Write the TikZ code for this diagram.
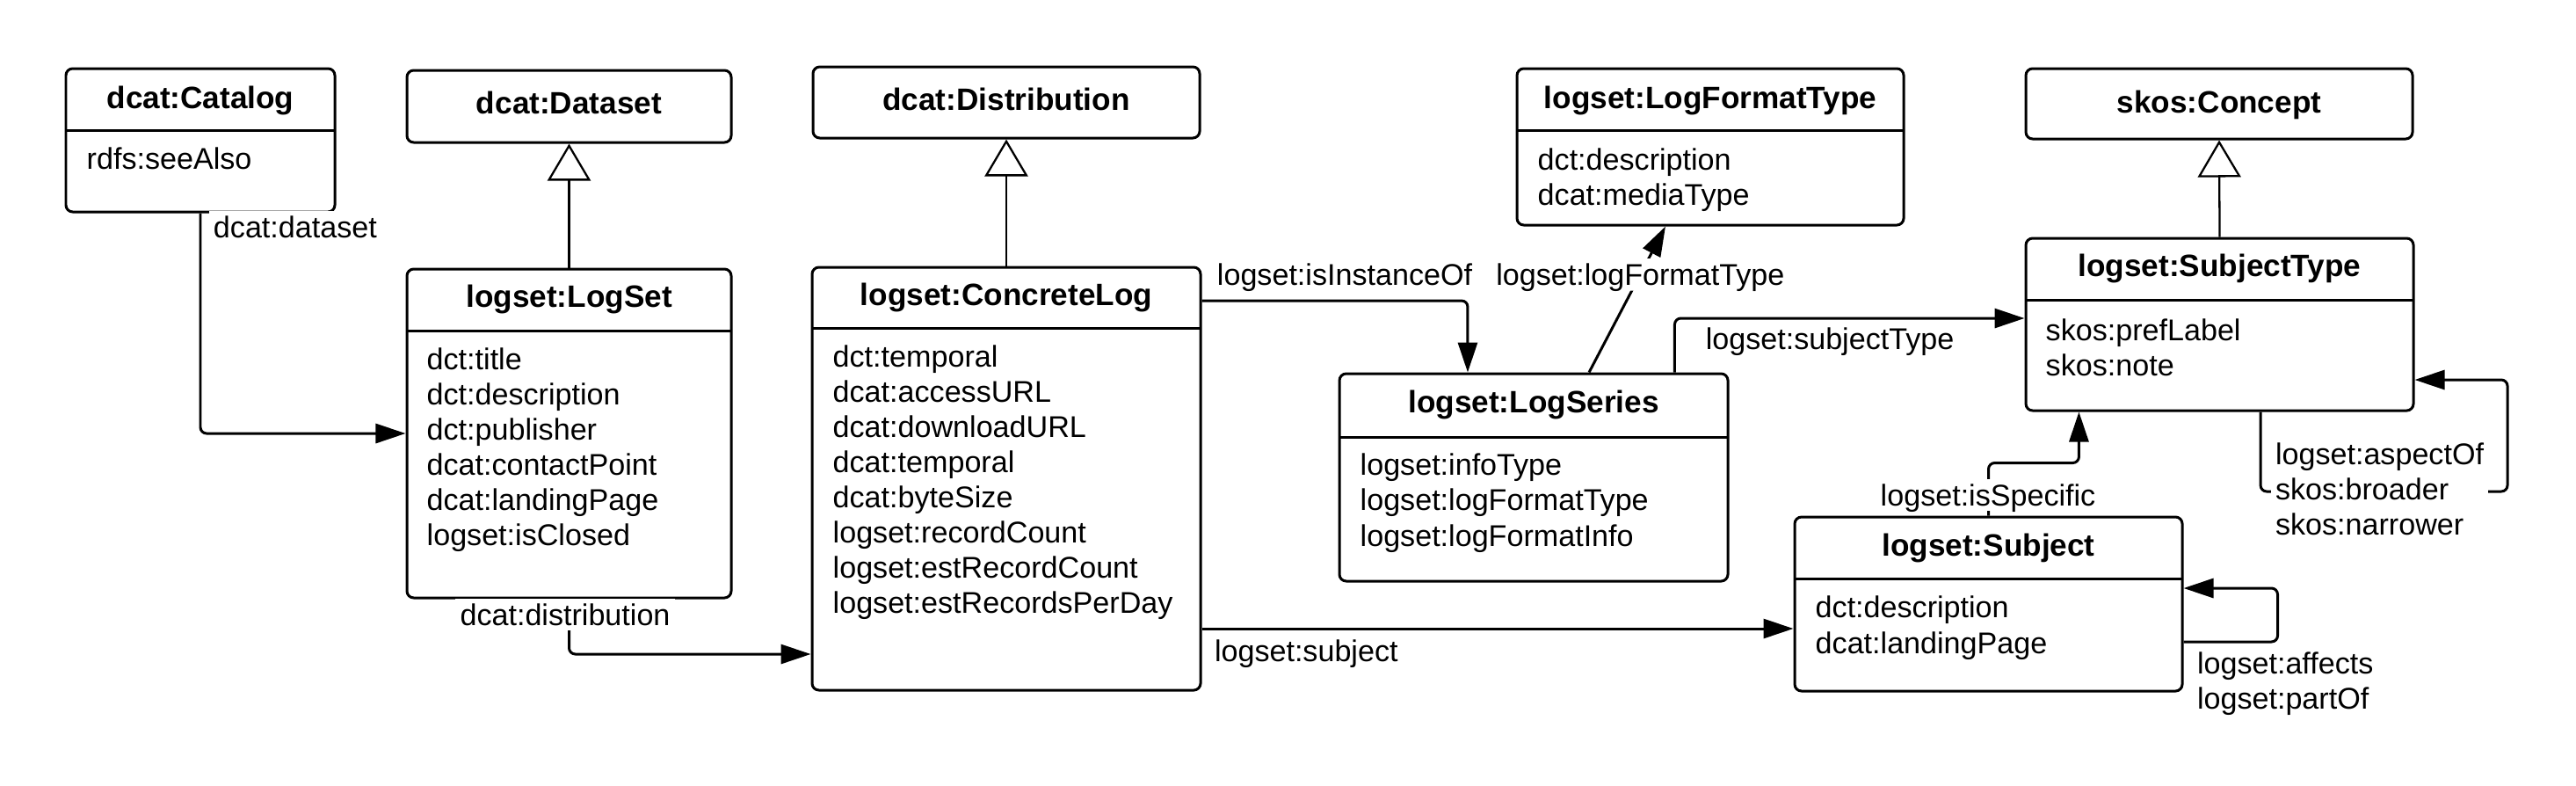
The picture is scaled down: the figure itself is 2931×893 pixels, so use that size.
\documentclass[tikz,border=0pt]{standalone}
\usepackage{fontspec}
\setmainfont{Liberation Sans}
\usetikzlibrary{arrows.meta,fit,calc}

\tikzset{
  cls/.style={draw, line width=0.85pt, rounded corners=2.2pt, inner sep=0pt},
  divider/.style={line width=0.85pt},
  ttl/.style={font=\bfseries, text height=0.72em, text depth=0.02em, inner sep=0pt},
  attr/.style={anchor=west, text height=0.72em, text depth=0.02em, inner sep=0pt},
  lbl/.style={text height=0.72em, text depth=0.02em, inner sep=1.5pt, fill=white},
  multilbl/.style={anchor=north west, align=left, inner sep=1.5pt},
  assoc/.style={line width=0.85pt, rounded corners=2pt, -{Triangle[length=0.34cm,width=0.22cm]}},
  inherit/.style={line width=0.65pt, -{Triangle[fill=white,length=0.42cm,width=0.49cm]}},
}

\begin{document}
\begin{tikzpicture}[x=0.01cm, y=-0.01cm, font=\fontsize{9.7}{11.4}\selectfont]
  \useasboundingbox (0,0) rectangle (2931,893);

  %% dcat classes
  \node[cls, fit={(75,78) (381,241)}] (catalog) {};
  \draw[divider] (75,148) -- (381,148);
  \node[ttl] at (228,111) {dcat:Catalog};
  \node[attr] at (98,180) {rdfs:seeAlso};

  \node[cls, fit={(463,80) (832,162)}] (dataset) {};
  \node[ttl] at (647.5,117) {dcat:Dataset};

  \node[cls, fit={(925,76) (1365,157)}] (distribution) {};
  \node[ttl] at (1145,113) {dcat:Distribution};

  %% LogSet
  \node[cls, fit={(463,306) (832,680)}] (logset) {};
  \draw[divider] (463,376) -- (832,376);
  \node[ttl] at (647.5,337) {logset:LogSet};
  \foreach \a [count=\i from 0] in {dct:title,dct:description,dct:publisher,
      dcat:contactPoint,dcat:landingPage,logset:isClosed}
    \node[attr] at (485,408+40*\i) {\a};

  %% ConcreteLog
  \node[cls, fit={(924,304) (1366,785)}] (concretelog) {};
  \draw[divider] (924,373) -- (1366,373);
  \node[ttl] at (1145,335) {logset:ConcreteLog};
  \foreach \a [count=\i from 0] in {dct:temporal,dcat:accessURL,dcat:downloadURL,
      dcat:temporal,dcat:byteSize,logset:recordCount,logset:estRecordCount,
      logset:estRecordsPerDay}
    \node[attr] at (947,405+40*\i) {\a};

  %% LogFormatType
  \node[cls, fit={(1726,78) (2166,256)}] (logformattype) {};
  \draw[divider] (1726,148) -- (2166,148);
  \node[ttl] at (1946,111) {logset:LogFormatType};
  \node[attr] at (1749,181) {dct:description};
  \node[attr] at (1749,221) {dcat:mediaType};

  %% LogSeries
  \node[cls, fit={(1524,425) (1966,661)}] (logseries) {};
  \draw[divider] (1524,497) -- (1966,497);
  \node[ttl] at (1745,457) {logset:LogSeries};
  \foreach \a [count=\i from 0] in {logset:infoType,logset:logFormatType,logset:logFormatInfo}
    \node[attr] at (1547,528+40.5*\i) {\a};

  %% skos side
  \node[cls, fit={(2305,78) (2745,158)}] (concept) {};
  \node[ttl] at (2525,116) {skos:Concept};

  \node[cls, fit={(2305,271) (2746,467)}] (subjecttype) {};
  \draw[divider] (2305,341) -- (2746,341);
  \node[ttl] at (2525.5,302) {logset:SubjectType};
  \node[attr] at (2327,375) {skos:prefLabel};
  \node[attr] at (2327,415) {skos:note};

  \node[cls, fit={(2042,588) (2483,786)}] (subject) {};
  \draw[divider] (2042,658) -- (2483,658);
  \node[ttl] at (2262.5,620) {logset:Subject};
  \node[attr] at (2065,690) {dct:description};
  \node[attr] at (2065,731) {dcat:landingPage};

  %% Subclass links
  \draw[inherit] (logset.north) -- (dataset.south);
  \draw[inherit] (concretelog.north) -- (distribution.south);
  \draw[inherit] (subjecttype.north) -- (concept.south);

  %% Properties
  \draw[assoc] (catalog.south) |- (logset.west);
  \draw[assoc] (logset.south) |- (concretelog.west |- 0,744);
  \draw[assoc] (concretelog.east |- 0,342) -| ([xshift=-0.75cm]logseries.north);
  \draw[assoc] ([xshift=0.63cm]logseries.north) -- node[lbl, pos=0.67] {logset:logFormatType}
    ([xshift=-0.51cm]logformattype.south);
  \draw[assoc] ([xshift=-0.62cm]logseries.north east) |- (subjecttype.west |- 0,362);
  \draw[assoc] (concretelog.east |- 0,715) -- (subject.west |- 0,715);
  \draw[assoc] (subject.north) -- ++(0,-60) -| ([xshift=-1.6cm]subjecttype.south);
  \draw[assoc] ([xshift=0.465cm]subjecttype.south) |- (2853,559) |- (subjecttype.east |- 0,432);
  \draw[assoc] (subject.east |- 0,730) -- ++(107,0) |- (subject.east |- 0,669);

  %% Property labels
  \node[lbl, anchor=west] at (237,258) {dcat:dataset};
  \node[lbl] at (643,699) {dcat:distribution};
  \node[lbl] at (1530,312) {logset:isInstanceOf};
  \node[lbl] at (2082,385) {logset:subjectType};
  \node[lbl, anchor=west] at (1376,740) {logset:subject};
  \node[lbl] at (2262,563) {logset:isSpecific};
  \node[multilbl, fill=white] at (2583,498) {logset:aspectOf\\skos:broader\\skos:narrower};
  \node[multilbl] at (2494,736) {logset:affects\\logset:partOf};
\end{tikzpicture}
\end{document}
